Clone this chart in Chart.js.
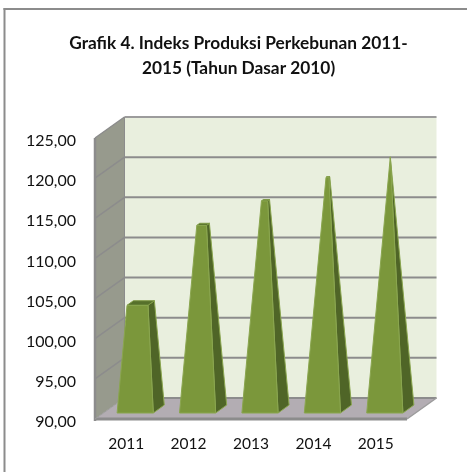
<!DOCTYPE html>
<html>
<head>
<meta charset="utf-8">
<style>html,body{margin:0;padding:0;background:#fff}canvas{display:block}</style>
<script src="https://cdn.jsdelivr.net/npm/chart.js@4"></script>
</head>
<body>
<canvas id="c" width="467" height="472"></canvas>
<script>
const categories = ['2011', '2012', '2013', '2014', '2015'];
const indeks = [103.2, 113.0, 116.0, 118.9, 121.4];
const titleLines = ['Grafik 4. Indeks Produksi Perkebunan 2011-', '2015 (Tahun Dasar 2010)'];
const axisMin = 90, axisMax = 125, axisStep = 5;

const FONT = 'Lato, "Open Sans", sans-serif';
const WALL = {dx: 29.5, dy: -21};      // depth of the 3D box
const BAR = {dx: 9, dy: -6, sx: 11, sy: -8}; // bar offset in the box, bar depth

class PyramidController extends Chart.BarController {
  draw() {
    const ctx = this.chart.ctx, meta = this.getMeta();
    const yScale = this.chart.scales.y;
    const top = Math.max(...indeks);
    const H = yScale.getPixelForValue(axisMin) - yScale.getPixelForValue(top);
    meta.data.forEach((bar) => {
      const p = bar.getProps(['x', 'y', 'base', 'width'], true);
      const o = bar.options;
      const yb = p.base + BAR.dy, xl = p.x - p.width / 2 + BAR.dx, xr = p.x + p.width / 2 + BAR.dx;
      const ax = (xl + xr) / 2 + BAR.sx / 2, ay = yb + BAR.sy / 2 - H;
      const t = (p.base - p.y) / H;
      const lift = c => [c[0] + (ax - c[0]) * t, c[1] + (ay - c[1]) * t];
      const fl = [xl, yb], fr = [xr, yb], br = [xr + BAR.sx, yb + BAR.sy], bl = [xl + BAR.sx, yb + BAR.sy];
      const tfl = lift(fl), tfr = lift(fr), tbr = lift(br), tbl = lift(bl);
      const poly = (pts, fill, stroke) => {
        ctx.beginPath();
        pts.forEach((q, k) => k ? ctx.lineTo(q[0], q[1]) : ctx.moveTo(q[0], q[1]));
        ctx.closePath();
        ctx.fillStyle = fill; ctx.fill();
        ctx.strokeStyle = stroke; ctx.lineWidth = 1; ctx.lineJoin = 'round'; ctx.stroke();
      };
      poly([fr, br, tbr, tfr], '#4f6527', '#8aa64f');
      poly([tfl, tfr, tbr, tbl], '#56702b', '#7f9a45');
      poly([fl, fr, tfr, tfl], o.backgroundColor, o.borderColor);
    });
  }
}
PyramidController.id = 'pyramid';
PyramidController.defaults = Chart.BarController.defaults;
PyramidController.overrides = Chart.BarController.overrides;
Chart.register(PyramidController);

const box3d = {
  id: 'box3d',
  beforeDatasetsDraw(chart) {
    const {ctx, chartArea: a, scales: {y}} = chart;
    const {dx, dy} = WALL;
    const y0 = y.getPixelForValue(axisMin), y1 = y.getPixelForValue(axisMax);
    const poly = (pts, fill) => {
      ctx.beginPath();
      pts.forEach((q, k) => k ? ctx.lineTo(q[0], q[1]) : ctx.moveTo(q[0], q[1]));
      ctx.closePath(); ctx.fillStyle = fill; ctx.fill();
    };
    const line = (x0, yy0, x1, yy1, col, w) => {
      ctx.beginPath(); ctx.moveTo(x0, yy0); ctx.lineTo(x1, yy1);
      ctx.strokeStyle = col; ctx.lineWidth = w; ctx.stroke();
    };
    ctx.save();
    // outer frame: only left and top edges show
    line(4.5, 8, 4.5, 472, '#8c8c8c', 2);
    line(3.5, 9, 467, 9, '#8c8c8c', 2);
    poly([[a.left + dx, y1 + dy], [a.right + dx, y1 + dy], [a.right + dx, y0 + dy], [a.left + dx, y0 + dy]], '#e9efde');
    poly([[a.left, y1], [a.left + dx, y1 + dy], [a.left + dx, y0 + dy], [a.left, y0]], '#979a8d');
    poly([[a.left, y0], [a.left + dx, y0 + dy], [a.right + dx, y0 + dy], [a.right, y0]], '#b3adb3');
    y.ticks.forEach(t => {
      const py = y.getPixelForValue(t.value);
      if (t.value > axisMin) {
        line(a.left, py, a.left + dx, py + dy, '#8c8c8c', 1.5);
        line(a.left + dx, py + dy, a.right + dx, py + dy, t.value === axisMax ? '#9c9c9c' : '#8c8c8c', 2);
      }
    });
    line(a.left + dx, y0 + dy, a.right + dx, y0 + dy, '#8c8c8c', 2);
    line(a.left + dx, y1 + dy, a.left + dx, y0 + dy, '#8c8c8c', 1);
    line(a.left, y1, a.left, y0 + 2, '#8c8c8c', 2.5);
    line(a.left - 1, y0, a.right, y0, '#8c8c8c', 3);
    line(a.right, y0, a.right + dx, y0 + dy, '#9c9c9c', 1.5);
    line(a.left, y0, a.left + dx, y0 + dy, '#9c9c9c', 1);
    ctx.restore();
  }
};

new Chart(document.getElementById('c'), {
  type: 'pyramid',
  data: {
    labels: categories,
    datasets: [{
      label: 'Indeks Produksi Perkebunan',
      data: indeks,
      base: axisMin,
      clip: false,
      backgroundColor: '#7b973b',
      borderColor: '#8aa64f',
      categoryPercentage: 1,
      barPercentage: 0.58
    }]
  },
  plugins: [box3d],
  options: {
    responsive: false,
    animation: false,
    layout: {padding: {left: 10, right: 0, top: 31, bottom: 0}},
    plugins: {
      legend: {display: false},
      tooltip: {enabled: false},
      title: {
        display: true,
        text: titleLines,
        color: '#111',
        font: {family: FONT, size: 17.3, weight: 'bold', lineHeight: 1.445},
        padding: {top: 0, bottom: 57}
      }
    },
    scales: {
      x: {
        grid: {display: false},
        border: {display: false},
        ticks: {color: '#111', font: {family: FONT, size: 15.5}, padding: 8, maxRotation: 0},
        afterFit(s) { s.height = 53; }
      },
      y: {
        min: axisMin,
        max: axisMax,
        grid: {display: false},
        border: {display: false},
        ticks: {
          stepSize: axisStep,
          color: '#111',
          font: {family: FONT, size: 16},
          padding: 11,
          labelOffset: 3,
          callback: v => v.toFixed(2).replace('.', ',')
        },
        afterFit(s) { s.width = 85; }
      },
      yRightGap: {
        position: 'right',
        display: true,
        grid: {display: false},
        border: {display: false},
        ticks: {display: false},
        afterFit(s) { s.width = 60; }
      }
    }
  }
});
</script>
</body>
</html>
